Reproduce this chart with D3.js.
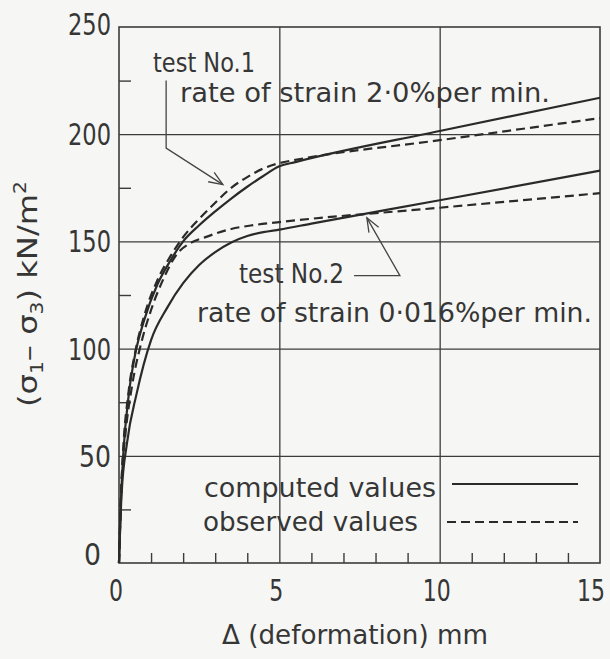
<!DOCTYPE html>
<html>
<head>
<meta charset="utf-8">
<script src="https://cdn.jsdelivr.net/npm/d3@7"></script>
<style>
  html, body { margin: 0; padding: 0; background: #f6f6f4; }
  svg { display: block; }
  text {
    font-family: "DejaVu Sans Condensed", "DejaVu Sans", sans-serif;
    font-stretch: condensed;
    fill: #363636;
  }
  .frame, .grid line { stroke: #3c3c3c; fill: none; }
  .curve { fill: none; stroke: #2a2a2a; stroke-width: 2.2; }
  .dashed { stroke-dasharray: 9 5; }
  .leader { stroke: #444; stroke-width: 1.3; fill: none; }
</style>
</head>
<body>
<div id="chart"></div>
<script>
// axis ticks
const xTicks = [0, 5, 10, 15];
const yTicks = [0, 50, 100, 150, 200, 250];
const xMinor = [1, 2, 3, 4, 6, 7, 8, 9, 11, 12, 13, 14];
const yMinor = [25, 75, 125, 175, 225];

// deformation (mm) vs deviator stress (kN/m2)
const test1Computed = [[0, 0], [0.05, 25], [0.13, 50], [0.3, 78], [0.5, 97], [0.8, 114], [1.2, 130],
  [1.6, 141], [2.0, 150], [2.5, 157.5], [3.0, 164], [3.5, 170], [4.0, 175.5], [4.5, 180.5], [5.0, 185],
  [5.5, 187], [10, 201.5], [15, 217]];
const test1Observed = [[0, 0], [0.05, 26], [0.12, 50], [0.3, 80], [0.5, 98], [0.8, 116], [1.2, 132],
  [1.6, 143], [2.0, 152], [2.5, 160.5], [3.0, 168], [3.5, 175], [4.0, 180], [4.5, 184], [5.0, 186.5],
  [5.5, 188], [10, 197.2], [15, 207.5]];
const test2Computed = [[0, 0], [0.08, 32], [0.25, 56], [0.55, 79], [1.0, 104], [1.5, 119], [2.0, 130.5],
  [2.5, 139], [3.0, 145], [3.5, 149.5], [4.0, 152.5], [4.5, 154.3], [5.0, 155.5], [6, 158.3], [10, 169.2],
  [15, 183]];
const test2Observed = [[0, 0], [0.08, 38], [0.2, 60], [0.4, 82], [0.7, 103], [1.0, 118], [1.4, 133],
  [1.8, 144], [2.2, 149], [2.7, 152], [3.5, 155.8], [4.2, 157.6], [5.0, 159], [10, 165.7], [15, 172.5]];

const width = 610;
const height = 659;
const plot = {left: 119, right: 600, top: 27, bottom: 563};

let svg = d3.select('#chart').append('svg')
  .attr('width', width)
  .attr('height', height)

let x = d3.scaleLinear().domain([0, 15]).range([plot.left, plot.right]);
let y = d3.scaleLinear().domain([0, 250]).range([plot.bottom, plot.top]);

// grid lines
svg.append('g')
  .classed('grid', true)
  .attr('transform', `translate(0, ${plot.bottom})`)
  .call(d3.axisBottom(x).tickValues(xTicks.slice(1, -1)).tickSize(-(plot.bottom - plot.top)).tickFormat(''))
  .call(g => g.select('.domain').remove())
  .selectAll('line').attr('stroke-width', 1.3);

svg.append('g')
  .classed('grid', true)
  .attr('transform', `translate(${plot.left}, 0)`)
  .call(d3.axisLeft(y).tickValues(yTicks.slice(1, -1)).tickSize(-(plot.right - plot.left)).tickFormat(''))
  .call(g => g.select('.domain').remove())
  .selectAll('line').attr('stroke-width', 1.3);

// minor ticks, pointing inwards
svg.append('g')
  .classed('grid', true)
  .attr('transform', `translate(0, ${plot.bottom})`)
  .call(d3.axisBottom(x).tickValues(xMinor).tickSize(-10).tickFormat(''))
  .call(g => g.select('.domain').remove())
  .selectAll('line').attr('stroke-width', 1.4);

svg.append('g')
  .classed('grid', true)
  .attr('transform', `translate(${plot.left}, 0)`)
  .call(d3.axisLeft(y).tickValues(yMinor).tickSize(-12).tickFormat(''))
  .call(g => g.select('.domain').remove())
  .selectAll('line').attr('stroke-width', 1.4);

// frame
svg.append('rect')
  .classed('frame', true)
  .attr('x', plot.left)
  .attr('y', plot.top)
  .attr('width', plot.right - plot.left)
  .attr('height', plot.bottom - plot.top)
  .attr('stroke-width', 1.6)

// tick labels
svg.selectAll('text.ylabel').data(yTicks).enter().append('text')
  .classed('ylabel', true)
  .attr('x', d => d === 0 ? 101 : 111)
  .attr('y', d => y(d) + (d === 0 ? 2 : d === 250 ? 8 : 11))
  .attr('text-anchor', 'end')
  .attr('font-size', 30)
  .attr('textLength', d => String(d).length === 3 ? 43 : String(d).length === 2 ? 32 : 17)
  .attr('lengthAdjust', 'spacingAndGlyphs')
  .text(d => d)

svg.selectAll('text.xlabel').data(xTicks).enter().append('text')
  .classed('xlabel', true)
  .attr('x', d => x(d) - (d === 15 ? 9 : 3))
  .attr('y', 601)
  .attr('text-anchor', 'middle')
  .attr('font-size', 31)
  .attr('textLength', d => String(d).length === 2 ? 28 : 14)
  .attr('lengthAdjust', 'spacingAndGlyphs')
  .text(d => d)

// axis titles
svg.append('text')
  .attr('x', 222)
  .attr('y', 644)
  .attr('font-size', 27)
  .attr('textLength', 266)
  .attr('lengthAdjust', 'spacingAndGlyphs')
  .text('Δ (deformation) mm')

let yTitle = svg.append('text')
  .attr('transform', 'translate(37, 294) rotate(-90)')
  .attr('text-anchor', 'middle')
  .attr('font-size', 27)
  .attr('textLength', 226)
  .attr('lengthAdjust', 'spacingAndGlyphs')
yTitle.append('tspan').text('(σ');
yTitle.append('tspan').attr('font-size', 17).attr('dy', 6).text('1');
yTitle.append('tspan').attr('dy', -6).text('– σ');
yTitle.append('tspan').attr('font-size', 17).attr('dy', 6).text('3');
yTitle.append('tspan').attr('dy', -6).text(') kN/m');
yTitle.append('tspan').attr('font-size', 17).attr('dy', -11).text('2');

// curves
let line = d3.line()
  .x(d => x(d[0]))
  .y(d => y(d[1]))
  .curve(d3.curveMonotoneX)

let series = [
  {data: test1Computed, dashed: false},
  {data: test1Observed, dashed: true},
  {data: test2Computed, dashed: false},
  {data: test2Observed, dashed: true},
];

svg.selectAll('path.curve').data(series).enter().append('path')
  .attr('class', d => d.dashed ? 'curve dashed' : 'curve')
  .attr('d', d => line(d.data))

// annotations
let arrowHead = (g, from, tip) => {
  let a = Math.atan2(tip[1] - from[1], tip[0] - from[0]);
  let len = 15, spread = 0.38;
  g.append('path')
    .classed('leader', true)
    .attr('d', `M${tip[0] - len * Math.cos(a - spread)},${tip[1] - len * Math.sin(a - spread)}` +
      `L${tip[0]},${tip[1]}` +
      `L${tip[0] - len * Math.cos(a + spread)},${tip[1] - len * Math.sin(a + spread)}`)
}

let notes = svg.append('g');

// test No.1 leader: vertical tick then diagonal to the curve
let n1Top = [x(1.47), y(225)], n1Corner = [x(1.47), y(193.5)], n1Tip = [x(3.24), y(176.5)];
notes.append('path').classed('leader', true)
  .attr('d', d3.line()([n1Top, n1Corner, n1Tip]))
arrowHead(notes, n1Corner, n1Tip);

// test No.2 leader: horizontal stub then diagonal up to the curve
let n2Start = [x(7.33), y(134)], n2Corner = [x(8.76), y(134)], n2Tip = [x(7.73), y(161)];
notes.append('path').classed('leader', true)
  .attr('d', d3.line()([n2Start, n2Corner, n2Tip]))
arrowHead(notes, n2Corner, n2Tip);

let labels = [
  {text: 'test No.1', x: 153, y: 72, w: 102},
  {text: 'rate of strain 2·0%per min.', x: 180, y: 102, w: 370},
  {text: 'test No.2', x: 239, y: 283, w: 105},
  {text: 'rate of strain 0·016%per min.', x: 197, y: 322, w: 395},
  {text: 'computed values', x: 204, y: 497, w: 232},
  {text: 'observed values', x: 203, y: 531, w: 215},
];

notes.selectAll('text').data(labels).enter().append('text')
  .attr('x', d => d.x)
  .attr('y', d => d.y)
  .attr('font-size', 27)
  .attr('textLength', d => d.w)
  .attr('lengthAdjust', 'spacingAndGlyphs')
  .text(d => d.text)

// legend samples
notes.append('line').classed('curve', true)
  .attr('x1', 452).attr('x2', 578).attr('y1', 484).attr('y2', 484)
  .attr('stroke-width', 1.8)
notes.append('line').attr('class', 'curve dashed')
  .attr('x1', 447).attr('x2', 578).attr('y1', 522).attr('y2', 522)
  .attr('stroke-width', 1.8)
</script>
</body>
</html>
